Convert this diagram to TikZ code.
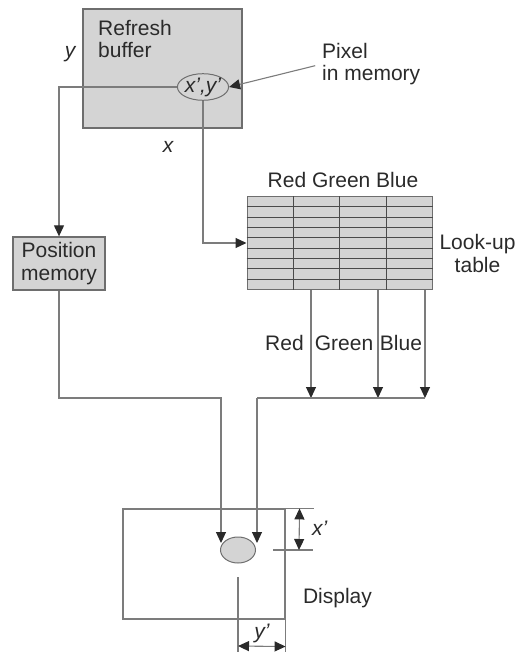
\documentclass[tikz,border=0pt]{standalone}
\usepackage{fontspec}
\setmainfont{Liberation Sans}
\usetikzlibrary{arrows.meta,calc,positioning,shapes.geometric}
\definecolor{boxgray}{HTML}{D4D4D4}
\definecolor{edgegray}{HTML}{6E6E6E}
\definecolor{linegray}{HTML}{7C7C7C}
\definecolor{inkdark}{HTML}{2A2A2A}

\begin{document}
\begin{tikzpicture}[
    x=1pt, y=-1pt,
    >={Triangle[length=11pt,width=10pt,color=inkdark]},
    every node/.style = {font=\fontsize{21}{22.5}\selectfont, text=inkdark},
    gbox/.style = {rectangle, draw=edgegray, fill=boxgray, line width=1.3pt,
                   inner sep=0pt, align=center},
    cell/.style = {ellipse, draw=edgegray, fill=boxgray, line width=1pt,
                   inner sep=0pt},
    lbl/.style  = {inner sep=0pt, align=left},
    wire/.style = {draw=linegray, line width=1.1pt},
    arr/.style  = {wire, ->},
    dim/.style  = {wire, <->},
]
\useasboundingbox (0,0) rectangle (519,652);

%% -- Refresh buffer -----------------------------------------------------------
\node[gbox, minimum width=159pt, minimum height=119pt] (buffer) at (162.5,68.5) {};
\node[lbl, anchor=west] (buftext) at (98,39) {Refresh\\buffer};
\node[cell, minimum width=51pt, minimum height=22pt] (pix) at (203,87) {\itshape x’,y’};
\node[lbl] (ylab) at (70,54) {\itshape y};
\node[lbl] (xlab) at (168,147) {\itshape x};
\node[lbl, anchor=west] (pixtext) at (322,64) {Pixel\\in memory};

%% -- Look-up table -------------------------------------------------------------
\node[lbl] (rgbhead) at (343,180) {Red Green Blue};
\node[gbox, line width=1pt, minimum width=185pt, minimum height=92pt] (lut) at (339.5,243) {};
\foreach \i in {1,...,8}
    \draw[inkdark!85, line width=0.9pt]
        ($(lut.north west)!\i/9!(lut.south west)$) -- ($(lut.north east)!\i/9!(lut.south east)$);
\foreach \i in {1,2,3}
    \draw[inkdark!85, line width=0.9pt]
        ($(lut.north west)!\i/4!(lut.north east)$) -- ($(lut.south west)!\i/4!(lut.south east)$);
\node[lbl, align=center] (luttext) at (477.5,253.5) {Look-up\\table};

%% -- Position memory -----------------------------------------------------------
\node[gbox, minimum width=92pt, minimum height=53pt] (posmem) at (59,263.5) {Position\\memory};

%% -- Display -------------------------------------------------------------------
\node[rectangle, draw=linegray, line width=1.1pt, inner sep=0pt,
      minimum width=162pt, minimum height=110pt] (screen) at (204,564) {};
\node[cell, minimum width=35pt, minimum height=26pt] (dot) at (238,550) {};
\node[lbl] (disptext) at (337.5,598) {Display};

%% -- Connectors from the buffer -------------------------------------------------
\draw[arr] (pix.west) -| (posmem.north);
\draw[arr] (pix.south) |- (lut.west);
\draw[arr, shorten <=7pt] (pixtext.west) -- (pix.east);

%% -- Colour outputs and bus ----------------------------------------------------
\coordinate (tapR) at (311,398);
\coordinate (tapG) at (378,398);
\coordinate (tapB) at (425,398);
\coordinate (busL) at (257,398);
\coordinate (busP) at (221,398);
\coordinate (hitC) at (257,543);
\coordinate (hitP) at (221,543);
\foreach \t in {tapR,tapG,tapB}
    \draw[arr] (lut.south -| \t) -- (\t);
\draw[wire] (busL) -- (tapB);
\draw[arr] (busL) -- (hitC);
\draw[arr] (posmem.south) |- (busP) -- (hitP);

\node[lbl] (redlab)   at (284.5,343) {Red};
\node[lbl] (greenlab) at (344,343)   {Green};
\node[lbl] (bluelab)  at (401,343)   {Blue};

%% -- Dimensions on the display ------------------------------------------------
\coordinate (xbotL) at (273,550);
\coordinate (xbotR) at (313,550);
\coordinate (ytick) at (238,577);
\draw[wire] (screen.north east) -- ++(28,0);
\draw[wire] (xbotL) -- (xbotR);
\draw[dim] ($(screen.north east)+(14,0)$) -- ($(xbotR)+(-14,0)$);
\node[lbl, anchor=west] (xplab) at (312,528) {\itshape x’};
\draw[wire] (screen.south east) -- ++(0,33);
\draw[wire] (ytick) -- ++(0,75);
\draw[dim] ($(ytick)+(0,69)$) -- ($(screen.south east)+(0,27)$);
\node[lbl] (yplab) at (262,633) {\itshape y’};

\end{tikzpicture}
\end{document}
